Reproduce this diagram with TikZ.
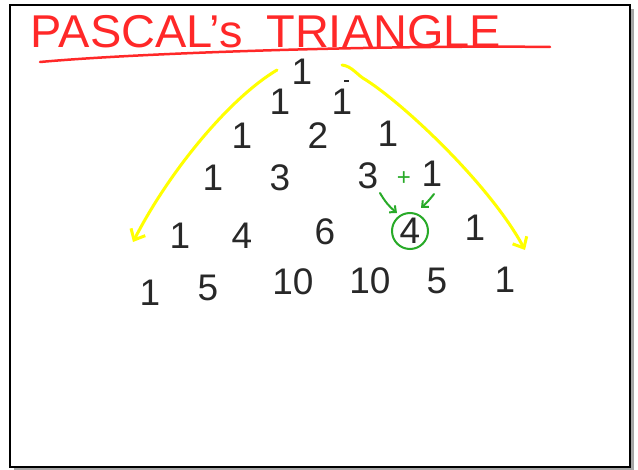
\documentclass[tikz,border=0pt]{standalone}
\usepackage{fontspec}
\setmainfont{Liberation Sans}
\usetikzlibrary{arrows.meta}
\definecolor{hlyellow}{RGB}{255,255,0}
\definecolor{penred}{RGB}{255,40,40}
\definecolor{pengreen}{RGB}{40,170,40}
\definecolor{penblack}{RGB}{40,40,40}
\begin{document}
\begin{tikzpicture}[x=1pt,y=-1pt,
  num/.style={font=\fontsize{37}{37}\selectfont, text=penblack, inner sep=0pt},
  yarrow/.style={draw=hlyellow, line width=3pt, line cap=round, -{Straight Barb[length=9pt,width=16pt,line width=3pt]}},
  garrow/.style={draw=pengreen, line width=2pt, line cap=round, -{Straight Barb[length=5pt,width=9pt,line width=2pt]}}]
\useasboundingbox (0,0) rectangle (638,470);
% frame with shadow
\fill[gray!70] (14,9) rectangle (634,471);
\draw[fill=white, line width=1.5pt] (10,5) rectangle (630,467);
% title
\node[font=\fontsize{46}{46}\selectfont, text=penred, inner sep=0pt, xscale=1.02] (title) at (266,32) {PASCAL's\,\,\,TRIANGLE};
\draw[penred, line width=2.5pt, line cap=round] (40,62) .. controls (150,52) and (400,45) .. (550,47);
% numbers
\node[num] (r0a) at (302,72) {1};
\node[num] (r1a) at (280,102) {1};
\node[num] (r1b) at (342,102) {1};
\node[num] (r2a) at (242,136) {1};
\node[num] (r2b) at (318,136) {2};
\node[num] (r2c) at (388,134) {1};
\node[num] (r3a) at (213,178) {1};
\node[num] (r3b) at (280,178) {3};
\node[num] (r3c) at (368,176) {3};
\node[num, text=pengreen, font=\fontsize{24}{24}\selectfont] (plus) at (404,179) {+};
\node[num] (r3d) at (432,174) {1};
\node[num] (r4a) at (180,236) {1};
\node[num] (r4b) at (242,236) {4};
\node[num] (r4c) at (325,232) {6};
\node[num] (r4d) at (410,231) {4};
\node[num] (r4e) at (475,228) {1};
\node[num] (r5a) at (150,293) {1};
\node[num] (r5b) at (208,288) {5};
\node[num] (r5c) at (293,282) {10};
\node[num] (r5d) at (370,281) {10};
\node[num] (r5e) at (437,281) {5};
\node[num] (r5f) at (505,280) {1};
% stray mark
\coordinate (m1) at (344,81);
\coordinate (m2) at (349,81);
\draw[penblack, line width=1.5pt] (m1) -- (m2);
% green circle and arrows
\draw[pengreen, line width=2pt] (r4d) circle[radius=18];
\coordinate (g1) at (380,193);
\coordinate (g2) at (397,213);
\coordinate (g3) at (434,194);
\coordinate (g4) at (421,208);
\draw[garrow] (g1) to[bend right=10] (g2);
\draw[garrow] (g3) to[bend left=5] (g4);
% yellow arrows
\coordinate (yl0) at (277,70);
\coordinate (yl1) at (133,242);
\coordinate (yr0) at (342,65);
\coordinate (yr1) at (525,250);
\draw[yarrow] (yl0) .. controls (230,98) and (170,170) .. (yl1);
\draw[yarrow] (yr0) .. controls (352,66) and (358,76) .. (366,80) .. controls (405,105) and (490,185) .. (yr1);
\end{tikzpicture}
\end{document}
